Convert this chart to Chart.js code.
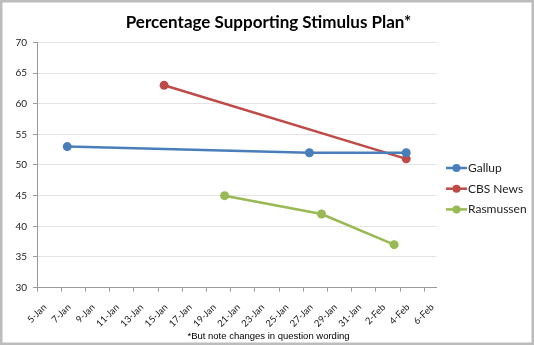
<!DOCTYPE html>
<html>
<head>
<meta charset="utf-8">
<script src="https://cdn.jsdelivr.net/npm/chart.js@4/dist/chart.umd.min.js"></script>
<style>
  html, body { margin: 0; padding: 0; background: #fff; }
  canvas { display: block; }
</style>
</head>
<body>
<canvas id="chart" width="534" height="345"></canvas>
<script>
const tickLabels = ['5-Jan', '7-Jan', '9-Jan', '11-Jan', '13-Jan', '15-Jan', '17-Jan', '19-Jan', '21-Jan',
  '23-Jan', '25-Jan', '27-Jan', '29-Jan', '31-Jan', '2-Feb', '4-Feb', '6-Feb'];

const gallupDates = ['7-Jan', '27-Jan', '4-Feb'];
const gallupValues = [53, 52, 52];

const cbsDates = ['15-Jan', '4-Feb'];
const cbsValues = [63, 51];

const rasmussenDates = ['20-Jan', '28-Jan', '3-Feb'];
const rasmussenValues = [45, 42, 37];

// days since 5-Jan, points sit in the middle of their day like Excel does
const dayIndex = (label) => {
  const [d, m] = label.split('-');
  return (m === 'Jan' ? +d - 5 : +d + 26) + 0.5;
};
const toPoints = (dates, values) => dates.map((d, i) => ({ x: dayIndex(d), y: values[i] }));

const series = (label, dates, values, color) => ({
  label,
  data: toPoints(dates, values),
  borderColor: color,
  backgroundColor: color,
  borderWidth: 2.5,
  pointRadius: 4.5,
  pointHoverRadius: 4.5,
  pointBorderWidth: 0,
  tension: 0,
});

// legend with line+marker like Excel, plus the outer frame
const excelLegend = {
  id: 'excelLegend',
  afterDraw(chart) {
    const ctx = chart.ctx;
    ctx.save();
    chart.data.datasets.forEach((ds, i) => {
      const y = 168 + i * 20.7;
      ctx.strokeStyle = ds.borderColor;
      ctx.lineWidth = 2.5;
      ctx.beginPath();
      ctx.moveTo(446, y);
      ctx.lineTo(467, y);
      ctx.stroke();
      ctx.fillStyle = ds.borderColor;
      ctx.beginPath();
      ctx.arc(456.5, y, 4, 0, Math.PI * 2);
      ctx.fill();
      ctx.fillStyle = '#222';
      ctx.font = '12px Lato';
      ctx.textAlign = 'left';
      ctx.textBaseline = 'middle';
      ctx.fillText(ds.label, 468, y);
    });
    ctx.strokeStyle = '#bcbcbc';
    ctx.lineWidth = 2.5;
    ctx.strokeRect(1.25, 1.25, chart.width - 2.5, chart.height - 2.5);
    ctx.restore();
  },
};

new Chart(document.getElementById('chart'), {
  type: 'line',
  data: {
    datasets: [
      series('Gallup', gallupDates, gallupValues, '#4a7ebb'),
      series('CBS News', cbsDates, cbsValues, '#be4b48'),
      series('Rasmussen', rasmussenDates, rasmussenValues, '#98b954'),
    ],
  },
  options: {
    responsive: false,
    animation: false,
    layout: { padding: { left: 3, right: 0, top: 0, bottom: 0 } },
    plugins: {
      legend: { display: false },
      tooltip: { enabled: false },
      title: {
        display: true,
        text: 'Percentage Supporting Stimulus Plan*',
        color: '#000',
        font: { family: 'Lato', size: 17, weight: 'bold', lineHeight: 1.2 },
        padding: { top: 12, bottom: 10 },
      },
      subtitle: {
        display: true,
        position: 'bottom',
        text: '*But note changes in question wording',
        color: '#000',
        font: { family: 'Liberation Sans', size: 9.5, lineHeight: 1.2 },
        padding: { top: 3, bottom: 3 },
      },
    },
    scales: {
      x: {
        type: 'linear',
        min: 0,
        max: 33,
        afterFit: (scale) => { scale.height = 40; },
        border: { color: '#9a9a9a', width: 1 },
        grid: { drawOnChartArea: false, drawTicks: true, tickLength: 4, color: '#9a9a9a' },
        ticks: {
          stepSize: 2,
          includeBounds: false,
          autoSkip: false,
          minRotation: 45,
          maxRotation: 45,
          padding: 10,
          labelOffset: 8,
          color: '#222',
          font: { family: 'Lato', size: 9.5 },
          callback: (v) => tickLabels[v / 2],
        },
      },
      y: {
        min: 30,
        max: 70,
        afterFit: (scale) => { scale.width = 34; },
        border: { color: '#9a9a9a', width: 1 },
        grid: { color: '#e4e4e4', tickColor: '#9a9a9a', tickLength: 4, lineWidth: 1 },
        ticks: {
          stepSize: 5,
          padding: 6,
          color: '#222',
          font: { family: 'Lato', size: 10 },
        },
      },
      // empty right-hand box that leaves room for the legend
      legendSpace: {
        type: 'linear',
        position: 'right',
        afterFit: (scale) => { scale.width = 97.5; },
        border: { display: false },
        grid: { display: false },
        ticks: { display: false },
      },
    },
  },
  plugins: [excelLegend],
});
</script>
</body>
</html>
